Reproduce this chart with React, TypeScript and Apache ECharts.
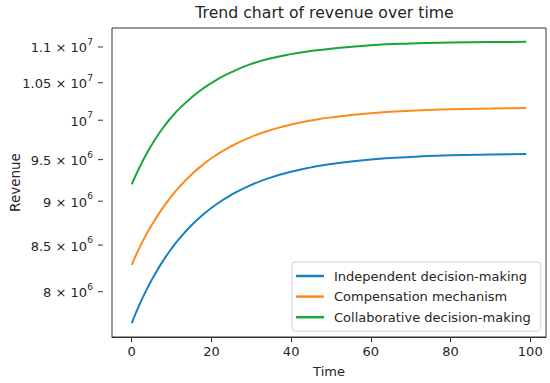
import React, { useEffect, useRef } from "react";
import * as echarts from "echarts";

const timePoints = [0, 2, 4, 6, 8, 10, 12, 15, 18, 21, 25, 30, 35, 40, 45, 50, 60, 70, 80, 90, 99];
const independent = [7.68e6, 7.871e6, 8.043e6, 8.198e6, 8.337e6, 8.462e6, 8.574e6, 8.722e6, 8.848e6, 8.956e6, 9.075e6, 9.193e6, 9.283e6, 9.352e6, 9.405e6, 9.446e6, 9.501e6, 9.533e6, 9.553e6, 9.564e6, 9.57e6];
const compensation = [8.285e6, 8.475e6, 8.645e6, 8.798e6, 8.936e6, 9.06e6, 9.172e6, 9.319e6, 9.444e6, 9.551e6, 9.669e6, 9.786e6, 9.875e6, 9.944e6, 9.996e6, 10.037e6, 10.092e6, 10.124e6, 10.143e6, 10.154e6, 10.16e6];
const collaborative = [9.2e6, 9.41e6, 9.598e6, 9.765e6, 9.912e6, 10.04e6, 10.155e6, 10.3e6, 10.425e6, 10.53e6, 10.645e6, 10.76e6, 10.84e6, 10.898e6, 10.942e6, 10.976e6, 11.024e6, 11.05e6, 11.063e6, 11.07e6, 11.075e6];
const seriesNames = ["Independent decision-making", "Compensation mechanism", "Collaborative decision-making"];
const xTicks = [0, 20, 40, 60, 80, 100];
const yTickValues = [8e6, 8.5e6, 9e6, 9.5e6, 1e7, 1.05e7, 1.1e7];
const yTickMantissa = ["8", "8.5", "9", "9.5", "", "1.05", "1.1"];
const yTickExponent = ["6", "6", "6", "6", "7", "7", "7"];

const FONT = "DejaVu Sans";
const TXT = "#262626";
const colors = ["#1a7fc1", "#ff8a1c", "#17a63a"];

export default function App() {
  const ref = useRef<HTMLDivElement>(null);
  useEffect(() => {
    const chart = echarts.init(ref.current!, null, { renderer: "svg" });
    const mk = (arr: number[]) => timePoints.map((t, i) => [t, arr[i]]);
    const gridLeft = 103;
    chart.setOption({
      animation: false,
      textStyle: { fontFamily: FONT },
      color: colors,
      title: {
        text: "Trend chart of revenue over time",
        left: 324.5,
        top: 4,
        textAlign: "center",
        padding: 0,
        textStyle: { fontFamily: FONT, fontSize: 15.7, fontWeight: "normal", color: TXT },
      },
      grid: {
        left: gridLeft,
        right: 4,
        top: 28,
        bottom: 46,
        show: true,
        borderColor: "#333",
        borderWidth: 1,
        backgroundColor: "transparent",
      },
      legend: {
        orient: "vertical",
        left: 292,
        top: 262,
        padding: [6, 10, 6, 4],
        itemWidth: 28,
        itemHeight: 2.5,
        itemGap: 4.6,
        icon: "rect",
        selectedMode: false,
        backgroundColor: "#fff",
        borderColor: "#d0d0d0",
        borderWidth: 1,
        borderRadius: 3,
        textStyle: { fontFamily: FONT, fontSize: 13, color: TXT, lineHeight: 16, padding: [0, 0, 0, 5] },
        data: seriesNames,
      },
      xAxis: {
        type: "value",
        min: -4.95,
        max: 103.95,
        name: "Time",
        nameLocation: "middle",
        nameGap: 28,
        nameTextStyle: { fontFamily: FONT, fontSize: 13, color: TXT },
        axisLine: { show: true, onZero: false, lineStyle: { color: "#333", width: 1 } },
        axisTick: { show: true, length: 5, customValues: xTicks, lineStyle: { color: "#333" } },
        axisLabel: { customValues: xTicks, fontFamily: FONT, fontSize: 13, color: TXT, margin: 8 },
        splitLine: { show: false },
      },
      yAxis: {
        type: "log",
        logBase: 10,
        min: 7.542e6,
        max: 1.1275e7,
        name: "Revenue",
        nameLocation: "middle",
        nameGap: 90,
        nameTextStyle: { fontFamily: FONT, fontSize: 13.5, color: TXT },
        axisLine: { show: false, onZero: false },
        axisTick: { show: false },
        axisLabel: { show: false },
        splitLine: { show: false },
      },
      series: [independent, compensation, collaborative].map((arr, i) => ({
        name: seriesNames[i],
        type: "line",
        data: mk(arr),
        smooth: true,
        showSymbol: false,
        lineStyle: { width: 2, color: colors[i] },
        itemStyle: { color: colors[i] },
      })),
    });

    const graphics: any[] = [];
    const supRight = gridLeft - 10;
    yTickValues.forEach((v, i) => {
      const y = chart.convertToPixel({ yAxisIndex: 0 }, v) as number;
      graphics.push({
        type: "line",
        shape: { x1: gridLeft - 5, y1: y, x2: gridLeft, y2: y },
        style: { stroke: "#333", lineWidth: 1 },
        silent: true,
      });
      const main = yTickMantissa[i] ? `${yTickMantissa[i]} × 10` : "10";
      graphics.push({
        type: "text",
        x: supRight - 6,
        y: y + 1,
        silent: true,
        style: {
          text: main,
          fontSize: 13,
          fontFamily: FONT,
          align: "right",
          verticalAlign: "middle",
          fill: TXT,
        },
      });
      graphics.push({
        type: "text",
        x: supRight,
        y: y - 5,
        silent: true,
        style: {
          text: yTickExponent[i],
          fontSize: 9,
          fontFamily: FONT,
          align: "right",
          verticalAlign: "middle",
          fill: TXT,
        },
      });
    });
    chart.setOption({ graphic: graphics });

    return () => chart.dispose();
  }, []);
  return <div ref={ref} style={{ width: 550, height: 383, position: "absolute", left: 0, top: 0 }} />;
}
